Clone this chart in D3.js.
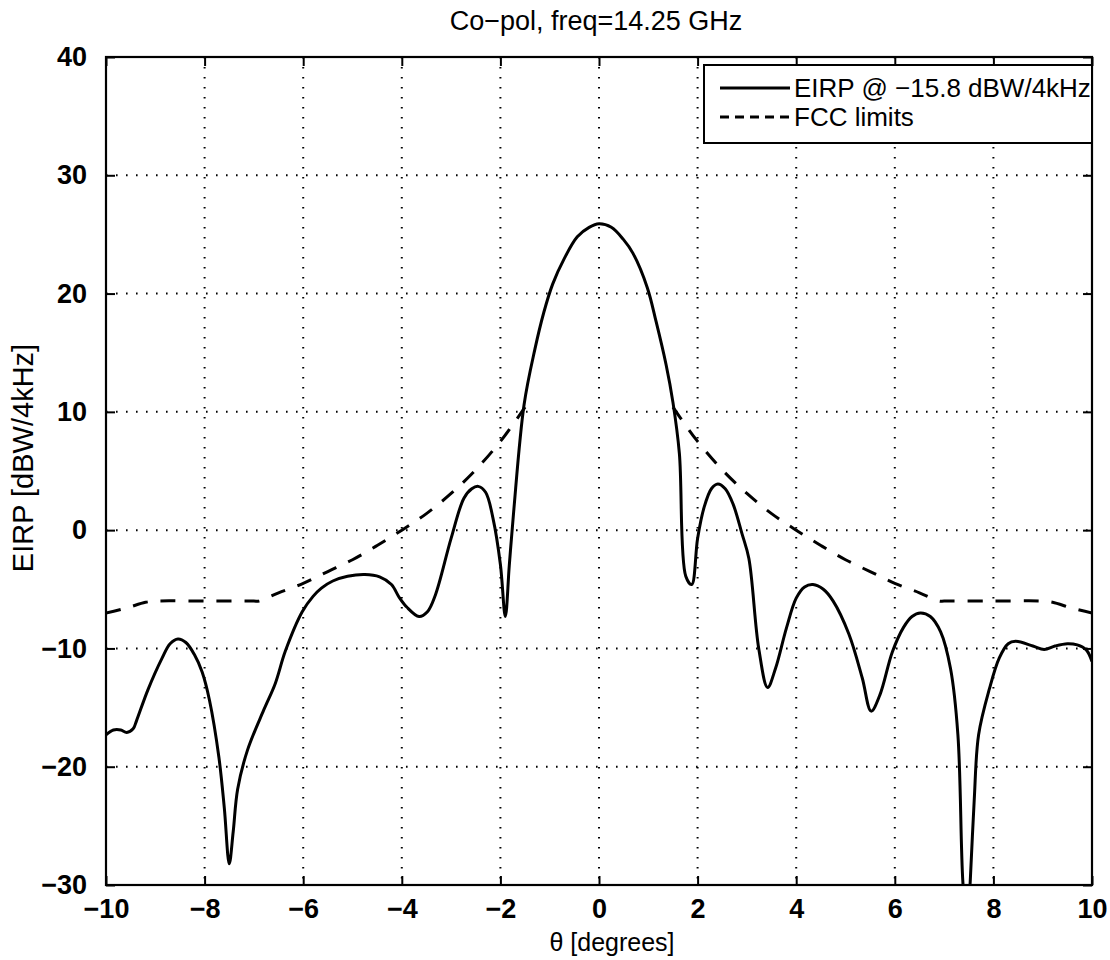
<!DOCTYPE html>
<html>
<head>
<meta charset="utf-8">
<script src="https://cdn.jsdelivr.net/npm/d3@7"></script>
<style>
  html, body { margin: 0; padding: 0; background: #fff; }
  svg { display: block; font-family: "Liberation Sans", Arial, sans-serif; }
</style>
</head>
<body>
<svg id="chart" width="1110" height="960"></svg>
<script>
// ---- data ----
const titleText = "Co\u2212pol, freq=14.25 GHz";
const xLabelText = "\u03b8  [degrees]";
const yLabelText = "EIRP [dBW/4kHz]";
const seriesNames = ["EIRP @ \u221215.8 dBW/4kHz", "FCC limits"];

const xTicks = [-10, -8, -6, -4, -2, 0, 2, 4, 6, 8, 10];
const yTicks = [-30, -20, -10, 0, 10, 20, 30, 40];

// EIRP curve (solid)
const eirpTheta = [
  -10.0, -9.85, -9.7, -9.58, -9.45, -9.38, -9.15, -8.86, -8.7, -8.54, -8.38, -8.21, -8.05, -7.9, -7.71, -7.6, -7.5,
  -7.42, -7.33, -7.13, -6.8, -6.57, -6.36, -6.02, -5.8, -5.63, -5.4, -5.1, -4.75, -4.45, -4.21, -4.05, -3.9, -3.65,
  -3.48, -3.32, -3.0, -2.74, -2.58, -2.45, -2.3, -2.15, -2.0, -1.9, -1.82, -1.73, -1.52, -1.3, -1.12, -0.94, -0.7,
  -0.44, -0.2, 0.0, 0.25, 0.49, 0.69, 0.98, 1.16, 1.36, 1.5, 1.63, 1.76, 1.88, 2.0, 2.13, 2.28, 2.41, 2.56, 2.72,
  2.9, 3.04, 3.24, 3.42, 3.58, 3.8, 4.0, 4.17, 4.34, 4.55, 4.75, 5.07, 5.34, 5.52, 5.7, 5.95, 6.18, 6.35, 6.52,
  6.72, 6.93, 7.13, 7.28, 7.38, 7.47, 7.53, 7.61, 7.7, 7.92, 8.12, 8.3, 8.45, 8.8, 9.03, 9.25, 9.5, 9.7, 9.88, 10.0
];
const eirpValue = [
  -17.3, -16.9, -16.9, -17.1, -16.8, -16.1, -13.5, -10.8, -9.6, -9.2, -9.5, -10.5, -12.0, -14.4, -19.2, -23.5, -28.2,
  -25.5, -21.9, -18.6, -15.2, -13.0, -10.2, -6.9, -5.6, -4.9, -4.3, -3.9, -3.75, -3.95, -4.6, -5.7, -6.5, -7.3,
  -6.9, -5.5, -0.7, 2.7, 3.5, 3.7, 3.2, 1.0, -2.9, -7.3, -3.0, 1.6, 10.6, 15.3, 18.4, 20.8, 23.0,
  24.8, 25.6, 25.9, 25.6, 24.6, 23.4, 20.5, 17.6, 14.0, 10.8, 6.5, -3.9, -4.6, -0.7, 1.9, 3.5, 3.9, 3.5, 2.2,
  -0.3, -2.4, -10.0, -13.3, -11.7, -8.3, -5.75, -4.8, -4.6, -5.0, -6.0, -8.8, -12.5, -15.3, -13.9, -10.3, -8.2, -7.3, -7.0,
  -7.3, -8.6, -11.7, -17.3, -29.7, -34.0, -29.7, -22.9, -17.3, -13.4, -10.8, -9.6, -9.4, -9.8, -10.1, -9.8, -9.6, -9.7, -10.1, -11.1
];

// FCC limit (dashed); null = gap around the main lobe
const fccTheta = [
  -10.0, -9.6, -9.2, -9.0, -8.0, -7.0, -6.9, -6.5, -6.0, -5.5, -5.0, -4.5, -4.0, -3.5, -3.0, -2.5, -2.0, -1.75, -1.5,
  null,
  1.5, 1.75, 2.0, 2.5, 3.0, 3.5, 4.0, 4.5, 5.0, 5.5, 6.0, 6.5, 6.9, 7.0, 8.0, 9.0, 9.2, 9.6, 10.0
];
const fccValue = [
  -7.0, -6.6, -6.1, -6.0, -6.0, -6.0, -6.0, -5.3, -4.5, -3.5, -2.5, -1.3, 0.0, 1.4, 3.1, 5.1, 7.5, 8.9, 10.4,
  null,
  10.4, 8.9, 7.5, 5.1, 3.1, 1.4, 0.0, -1.3, -2.5, -3.5, -4.5, -5.3, -6.0, -6.0, -6.0, -6.0, -6.1, -6.6, -7.0
];

// ---- layout ----
const M = { left: 106, right: 1092, top: 57, bottom: 885 };
const svg = d3.select("#chart");

const x = d3.scaleLinear().domain([-10, 10]).range([M.left, M.right]);
const y = d3.scaleLinear().domain([-30, 40]).range([M.bottom, M.top]);

svg.append("defs").append("clipPath").attr("id", "clip")
  .append("rect").attr("x", M.left).attr("y", M.top)
  .attr("width", M.right - M.left).attr("height", M.bottom - M.top);

// grid
const grid = svg.append("g").attr("stroke", "#000").attr("stroke-width", 2)
  .attr("stroke-dasharray", "1.6,8.4").attr("fill", "none");
xTicks.slice(1, -1).forEach(t => {
  grid.append("line").attr("x1", x(t)).attr("x2", x(t)).attr("y1", M.top).attr("y2", M.bottom);
});
yTicks.slice(1, -1).forEach(t => {
  grid.append("line").attr("x1", M.left).attr("x2", M.right).attr("y1", y(t)).attr("y2", y(t));
});

// axes with inward ticks (box)
const tickLen = 9;
const fmt = d => d3.format("")(d);
const axB = d3.axisBottom(x).tickValues(xTicks).tickSizeInner(-tickLen).tickSizeOuter(0).tickPadding(14).tickFormat(fmt);
const axT = d3.axisTop(x).tickValues(xTicks).tickSizeInner(-tickLen).tickSizeOuter(0).tickFormat("");
const axL = d3.axisLeft(y).tickValues(yTicks).tickSizeInner(-tickLen).tickSizeOuter(0).tickPadding(19).tickFormat(fmt);
const axR = d3.axisRight(y).tickValues(yTicks).tickSizeInner(-tickLen).tickSizeOuter(0).tickFormat("");

function styleAxis(g) {
  g.select(".domain").remove();
  g.selectAll(".tick line").attr("stroke", "#000").attr("stroke-width", 2);
  g.selectAll(".tick text").attr("fill", "#000")
    .style("font-size", "27px").style("font-weight", "bold")
    .style("font-family", "'Liberation Sans', Arial, sans-serif");
}
svg.append("g").attr("transform", `translate(0,${M.bottom})`).call(axB).call(styleAxis);
svg.append("g").attr("transform", `translate(0,${M.top})`).call(axT).call(styleAxis);
svg.append("g").attr("transform", `translate(${M.left},0)`).call(axL).call(styleAxis);
svg.append("g").attr("transform", `translate(${M.right},0)`).call(axR).call(styleAxis);

// frame
svg.append("rect").attr("x", M.left).attr("y", M.top)
  .attr("width", M.right - M.left).attr("height", M.bottom - M.top)
  .attr("fill", "none").attr("stroke", "#000").attr("stroke-width", 2.2);

// curves
const eirpData = eirpTheta.map((t, i) => ({ t, v: eirpValue[i] }));
const fccData = fccTheta.map((t, i) => ({ t, v: fccValue[i] }));

const line = d3.line()
  .defined(d => d.t !== null && d.v !== null)
  .x(d => x(d.t)).y(d => y(d.v))
  .curve(d3.curveCatmullRom.alpha(0.5));

const plot = svg.append("g").attr("clip-path", "url(#clip)");
plot.append("path").datum(fccData).attr("d", line)
  .attr("fill", "none").attr("stroke", "#000").attr("stroke-width", 3)
  .attr("stroke-dasharray", "15,13");
plot.append("path").datum(eirpData).attr("d", line)
  .attr("fill", "none").attr("stroke", "#000").attr("stroke-width", 3)
  .attr("stroke-linejoin", "round");

// title & labels
svg.append("text").attr("x", 596).attr("y", 30).attr("text-anchor", "middle")
  .style("font-size", "27px").text(titleText);
svg.append("text").attr("x", 612).attr("y", 951).attr("text-anchor", "middle")
  .style("font-size", "25px").text(xLabelText);
svg.append("text").attr("transform", "translate(33,458) rotate(-90)")
  .attr("text-anchor", "middle").style("font-size", "29px").text(yLabelText);

// legend
const lg = svg.append("g");
const lgX = 704, lgY = 65, lgW = 388, lgH = 78;
lg.append("rect").attr("x", lgX).attr("y", lgY).attr("width", lgW).attr("height", lgH)
  .attr("fill", "#fff").attr("stroke", "#000").attr("stroke-width", 2);
const rowsY = [88, 117];
const dashes = [null, "9,6"];
seriesNames.forEach((name, i) => {
  lg.append("line").attr("x1", 720).attr("x2", 790).attr("y1", rowsY[i]).attr("y2", rowsY[i])
    .attr("stroke", "#000").attr("stroke-width", 3)
    .attr("stroke-dasharray", dashes[i]);
  lg.append("text").attr("x", 794).attr("y", rowsY[i] + 9)
    .style("font-size", "26px").text(name);
});
</script>
</body>
</html>
